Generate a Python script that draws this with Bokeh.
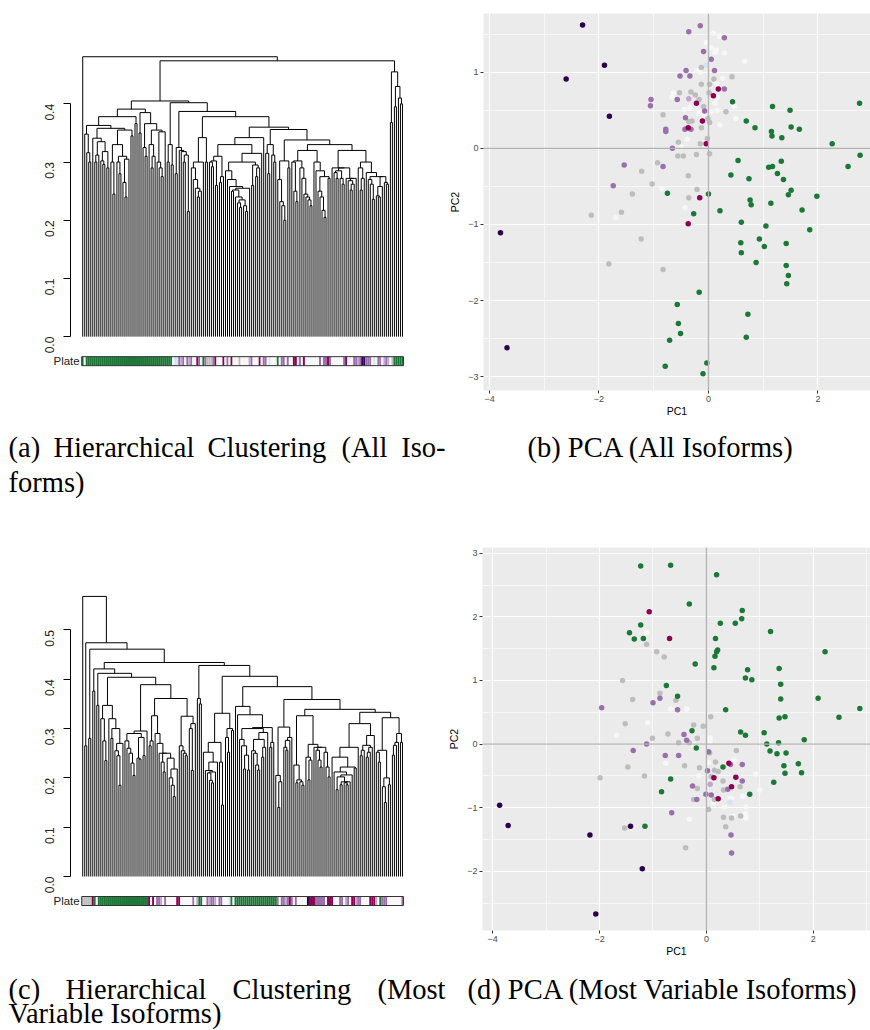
import numpy as np
from bokeh.plotting import figure
from bokeh.layouts import column, row
from bokeh.models import (Range1d, FixedTicker, SingleIntervalTicker, Span,
                          NumeralTickFormatter, CustomJSTickFormatter)
from bokeh.core.properties import value
from bokeh.embed import file_html
from bokeh.resources import INLINE

# ---------------------------------------------------------------------------
# Dendrograms: merge height between each pair of neighbouring leaves
# (left to right).  The tree is rebuilt by splitting at the highest merge.
# ---------------------------------------------------------------------------
gaps_all = [
    0.481,
    0.348, 0.316, 0.300, 0.363, 0.341, 0.300, 0.312, 0.335, 0.302, 0.296,
    0.318, 0.290, 0.358, 0.300, 0.245, 0.330, 0.300, 0.280, 0.310, 0.265,
    0.240, 0.305, 0.355, 0.345, 0.378, 0.366,
    0.391,
    0.350, 0.385, 0.325, 0.310, 0.366, 0.330, 0.290, 0.310, 0.355, 0.300,
    0.290, 0.275, 0.352,
    0.405,
    0.300, 0.330, 0.295,
    0.402,
    0.280, 0.325, 0.320, 0.318, 0.300, 0.312, 0.215,
    0.387,
    0.290, 0.270, 0.255, 0.240, 0.250, 0.300, 0.342, 0.300,
    0.378,
    0.300, 0.292, 0.302, 0.260, 0.310, 0.265, 0.275,
    0.330,
    0.285, 0.270, 0.258, 0.250, 0.252, 0.240, 0.230, 0.222, 0.235, 0.225,
    0.215, 0.255,
    0.300,
    0.260, 0.295, 0.275, 0.290, 0.315, 0.342,
    0.360,
    0.315, 0.280, 0.330, 0.312, 0.300,
    0.356,
    0.270, 0.232, 0.225, 0.200, 0.302, 0.290,
    0.338,
    0.300, 0.250, 0.232, 0.302, 0.290, 0.272, 0.245, 0.240, 0.235, 0.225,
    0.320, 0.300, 0.285, 0.250, 0.240, 0.217, 0.205, 0.275, 0.272,
    0.330,
    0.290, 0.282, 0.272, 0.285, 0.272, 0.262, 0.290, 0.272, 0.268, 0.252,
    0.262, 0.272, 0.320, 0.290, 0.252, 0.272, 0.300, 0.282, 0.270, 0.262,
    0.236, 0.275, 0.242, 0.240, 0.258, 0.275, 0.265, 0.262,
    0.474,
    0.368, 0.455, 0.395, 0.430, 0.410, 0.400,
]

gaps_var = [
    0.568, 0.265, 0.474, 0.280, 0.461, 0.376, 0.421, 0.347, 0.412,
    0.320, 0.275, 0.235, 0.347, 0.320, 0.280, 0.300, 0.255, 0.245, 0.185,
    0.270,
    0.404,
    0.275, 0.260, 0.250, 0.230, 0.205, 0.290, 0.240, 0.238, 0.282, 0.245,
    0.295,
    0.389,
    0.265, 0.275, 0.326, 0.290, 0.270, 0.250, 0.232, 0.212, 0.250, 0.240,
    0.200, 0.185, 0.162, 0.218, 0.361, 0.265, 0.255, 0.250, 0.245, 0.325,
    0.300, 0.215, 0.310,
    0.434,
    0.361, 0.350,
    0.428,
    0.252, 0.215, 0.210, 0.195, 0.190, 0.212, 0.232, 0.272, 0.232, 0.145,
    0.331, 0.282, 0.252, 0.300, 0.296,
    0.406,
    0.345, 0.328, 0.278, 0.265, 0.218, 0.246, 0.216, 0.300, 0.255, 0.250,
    0.226, 0.216, 0.278, 0.242, 0.262, 0.292, 0.302, 0.262, 0.272,
    0.385,
    0.205, 0.140, 0.192, 0.303, 0.262, 0.256, 0.276, 0.282,
    0.359,
    0.226, 0.190, 0.196, 0.192, 0.185, 0.326, 0.242, 0.196, 0.236, 0.268,
    0.262, 0.256, 0.236, 0.222, 0.262, 0.252, 0.222, 0.202,
    0.339,
    0.242, 0.212, 0.176, 0.202, 0.186, 0.192, 0.190, 0.186, 0.192, 0.206,
    0.222, 0.220, 0.262, 0.310, 0.245, 0.256, 0.266, 0.242, 0.252, 0.262,
    0.286, 0.333, 0.252, 0.232, 0.256, 0.182, 0.150, 0.200, 0.186, 0.322,
    0.246, 0.266, 0.272, 0.290, 0.272,
]

# plate of each leaf, in dendrogram order
plate_all = (
    "GWGGGGGGGGGGGGGGGGGGGGGGGGGGGGGGGGGGGGGGGGGGG"
    "WBBPLPWPLPWWMPWGPSSSPMWWWMWPWMWWWSWWWWLPWWWMWPPWBW"
    "WWGWPPWPWWMMWPWMWWWWWWWPWPPMPWWWWWWPMWWWPPLPDDPPPW"
    "BWPPWLPLWS"
    "GGGGG"
)
plate_var = (
    "SSSSSMGW"
    "GGGGGGGGGGGGGGGGGGGGGGGGG"
    "MWMWPPLWPWWWWWMMWWWWWWPWLGGWWPLPPLWPPWWWBGW"
    "GGGGGGGGGGGGGGGGGGGGG"
    "PWPPLPMPWPWWWWWDMMMPPPPPWMMMWWWPPWLPWMMLPPWWWWMMMLWGPPPWWWWWWWP"
)

PLATE_COLORS = {"G": "#1b7837", "W": "#f7f7f7", "B": "#d1e5f0", "L": "#c2a5cf",
                "P": "#9970ab", "M": "#8e0152", "D": "#2d004b", "S": "#bdbdbd"}

ticks_all = [0.0, 0.1, 0.2, 0.3, 0.4]
ticks_var = [0.0, 0.1, 0.2, 0.3, 0.4, 0.5]

# ---------------------------------------------------------------------------
# PCA scores (PC1, PC2) by plate
# ---------------------------------------------------------------------------
b_dark = [(-2.30, 1.62), (-2.60, 0.91), (-1.90, 1.09), (-1.81, 0.42), (-3.80, -1.11), (-3.68, -2.62)]
b_purple = [(-0.15, 1.61), (-0.36, 1.53), (0.29, 1.45), (-0.09, 1.27), (0.05, 1.17), (-0.41, 1.02),
            (-0.52, 0.95), (-0.34, 0.95), (0.11, 1.02), (0.29, 0.78), (-1.05, 0.64), (-1.06, 0.56),
            (-0.57, 0.64), (-0.42, 0.40), (-0.78, 0.25), (-0.78, 0.22), (-0.43, 0.25), (-0.32, 0.25),
            (-0.07, 0.49), (-0.66, 0.0), (-1.54, -0.22), (-0.83, -0.24), (-1.74, -0.49)]
b_lilac = [(-0.36, 0.65)]
b_magenta = [(-0.22, 0.59), (0.09, 0.69), (0.18, 0.78), (-0.11, 0.36), (-0.37, 0.27), (-0.04, 0.06),
             (-0.16, -0.65), (-0.37, -0.99)]
b_grey = [(-0.13, 1.06), (-0.13, 0.84), (0.02, 0.84), (0.43, 0.94), (0.10, 0.91), (-0.32, 0.74),
          (-0.53, 0.73), (-0.24, 0.70), (-0.17, 0.64), (-0.09, 0.55), (0.01, 0.73), (0.32, 0.48),
          (-0.83, 0.44), (-0.30, 0.36), (-0.36, 0.35), (-0.13, 0.27), (0.02, 0.34), (-0.01, 0.39),
          (-0.55, 0.08), (-0.15, 0.06), (-0.02, 0.13), (-0.56, -0.10), (-0.46, -0.10), (-0.22, -0.08),
          (0.02, -0.07), (-0.93, -0.19), (-1.22, -0.30), (-1.03, -0.47), (-0.37, -0.36), (-1.39, -0.60),
          (-0.21, -0.54), (-0.36, -0.65), (-1.59, -0.84), (-2.14, -0.88), (-1.23, -1.19), (-1.82, -1.52),
          (-0.83, -1.59)]
b_white = [(0.09, 1.51), (0.20, 1.47), (-0.04, 1.39), (0.05, 1.32), (0.14, 1.29), (0.12, 1.26),
           (0.29, 1.25), (0.66, 1.14), (-0.21, 1.02), (-0.15, 1.00), (0.26, 0.92), (0.15, 0.85),
           (-0.64, 0.73), (-0.67, 0.67), (-0.34, 0.54), (0.16, 0.67), (0.12, 0.59), (0.16, 0.50),
           (0.47, 0.55), (0.50, 0.39), (0.21, 0.31), (-0.07, 0.42), (0.04, 0.48), (-0.44, 0.51),
           (-0.39, 0.12), (-0.50, 0.02), (-0.85, -0.53), (-0.43, -0.78), (-1.69, -0.91), (-0.17, 0.46)]
b_blue = [(-0.04, 1.09)]
b_green = [(0.44, 0.61), (1.17, 0.55), (1.49, 0.50), (0.69, 0.36), (0.85, 0.27), (1.15, 0.22),
           (1.16, 0.16), (1.34, 0.14), (1.51, 0.28), (1.66, 0.25), (2.76, 0.59), (2.26, 0.06),
           (2.77, -0.09), (2.55, -0.24), (0.54, -0.16), (1.10, -0.25), (1.17, -0.24), (1.33, -0.17),
           (1.26, -0.33), (0.41, -0.35), (0.74, -0.40), (1.37, -0.41), (1.51, -0.55), (1.46, -0.61),
           (1.98, -0.63), (-0.75, -0.59), (0.0, -0.60), (0.76, -0.68), (0.78, -0.74), (1.14, -0.72),
           (1.71, -0.81), (0.21, -0.82), (-0.27, -0.86), (0.60, -0.97), (1.05, -1.02), (1.85, -1.07),
           (0.59, -1.24), (0.93, -1.19), (1.42, -1.25), (0.60, -1.37), (1.02, -1.29), (0.87, -1.50),
           (1.42, -1.54), (1.46, -1.67), (1.43, -1.78), (-0.17, -1.89), (-0.57, -2.05), (-0.55, -2.30),
           (-0.51, -2.43), (-0.71, -2.52), (0.72, -2.18), (0.69, -2.48), (-0.79, -2.86), (-0.03, -2.82),
           (-0.10, -2.96)]

d_dark = [(-3.87, -0.96), (-3.71, -1.28), (-2.18, -1.43), (-1.42, -1.29), (-1.20, -1.96), (-2.07, -2.67)]
d_magenta = [(-1.07, 2.08), (-0.69, 1.66), (0.42, -0.30), (0.55, -0.52), (0.14, -0.53), (0.47, -0.67),
             (0.22, -0.86)]
d_green = [(-1.23, 2.80), (-0.67, 2.81), (0.19, 2.66), (-0.32, 2.20), (0.67, 2.10), (0.66, 1.97),
           (0.26, 1.90), (0.54, 1.90), (-1.23, 1.87), (-1.44, 1.75), (-1.35, 1.65), (-1.18, 1.66),
           (0.17, 1.66), (1.20, 1.77), (0.21, 1.48), (0.19, 1.45), (0.16, 1.38), (0.14, 1.20),
           (-0.21, 1.26), (0.77, 1.17), (0.73, 1.04), (0.85, 1.01), (2.22, 1.45), (1.36, 1.19),
           (1.39, 0.94), (1.39, 0.71), (2.09, 0.72), (-0.75, 0.92), (-0.54, 0.75), (0.36, 0.54),
           (1.36, 0.41), (1.47, 0.43), (2.48, 0.42), (2.87, 0.56), (-0.27, 0.21), (0.64, 0.19),
           (0.73, 0.14), (1.08, 0.18), (1.13, 0.0), (1.35, 0.02), (1.83, 0.07), (1.19, -0.11),
           (1.32, -0.15), (1.49, -0.14), (-0.19, -0.06), (0.31, -0.36), (1.72, -0.31), (1.45, -0.34),
           (1.47, -0.46), (1.78, -0.45), (1.26, -0.60), (-0.67, -0.55), (-0.84, -0.75), (0.81, -0.79),
           (-1.15, -1.29)]
d_purple = [(-1.96, 0.57), (-1.00, 0.65), (-0.87, 0.72), (-0.54, 0.54), (-0.42, 0.15), (-0.37, 0.06),
            (-1.12, 0.0), (-1.37, -0.10), (-0.77, -0.18), (-0.52, -0.18), (0.04, -0.12), (0.45, -0.32),
            (0.67, -0.32), (0.02, -0.42), (0.67, -0.58), (0.40, -0.71), (-0.26, -0.66), (-0.18, -0.87),
            (-0.01, -0.79), (0.09, -0.80), (-0.65, -1.08), (0.46, -1.43), (0.47, -1.71)]
d_lilac = [(0.07, -0.63)]
d_grey = [(-1.12, 1.57), (-0.93, 1.45), (-0.79, 1.37), (-1.57, 1.00), (-0.87, 0.80), (-1.38, 0.70),
          (-0.57, 0.69), (-1.52, 0.32), (0.08, 0.43), (-0.06, 0.28), (-0.24, 0.30), (-0.72, 0.16),
          (-1.01, 0.09), (-0.52, 0.02), (-0.32, 0.02), (-0.17, 0.09), (-1.47, -0.36), (-1.16, -0.50),
          (-1.99, -0.53), (-0.41, -0.34), (-0.13, -0.37), (0.06, -0.14), (0.17, -0.28), (0.56, -0.10),
          (0.15, -0.41), (0.22, -0.43), (0.09, -0.51), (0.31, -0.58), (0.63, -0.67), (0.32, -0.72),
          (-0.17, -0.70), (-0.24, -0.87), (0.15, -0.87), (0.04, -1.03), (0.32, -1.15), (0.47, -1.16),
          (0.64, -1.13), (0.36, -1.30), (-1.53, -1.32), (-0.39, -1.63)]
d_white = [(-1.12, 1.75), (-0.67, 0.55), (-0.37, 0.55), (-1.10, 0.34), (-1.68, 0.14), (-0.23, -0.02),
           (0.07, 0.10), (0.07, 0.05), (-0.76, -0.30), (-0.14, -0.50), (0.04, -0.29), (0.52, -0.25),
           (0.92, -0.47), (1.00, -0.72), (0.68, -0.82), (0.47, -0.85), (0.34, -0.99), (0.13, -0.93),
           (0.50, -1.13), (0.74, -0.99), (0.73, -1.09), (0.74, -1.16), (-0.32, -1.18), (0.44, -0.85)]
d_blue = [(0.44, -0.91)]

SANS = "Liberation Sans"
SERIF = "Liberation Serif"


def tree_segments(gaps):
    """Segments of a dendrogram whose neighbouring leaves merge at `gaps`."""
    x0, y0, x1, y1 = [], [], [], []

    def walk(lo, hi):
        if lo == hi:
            return float(lo), 0.0
        k = lo + int(np.argmax(gaps[lo:hi]))
        h = gaps[k]
        xl, hl = walk(lo, k)
        xr, hr = walk(k + 1, hi)
        x0.extend([xl, xr, xl]); y0.extend([hl, hr, h])
        x1.extend([xl, xr, xr]); y1.extend([h, h, h])
        return 0.5 * (xl + xr), h

    walk(0, len(gaps))
    return x0, y0, x1, y1


def dendrogram_panel(gaps, plate, ticks, y_lo, y_hi, top_pad, frame_h, bottom_pad):
    n = len(gaps) + 1
    # 2 px per leaf; the frame starts 21 leaf-units left of the first leaf
    # so that the plate label fits inside it, the axis sits 6 units left.
    p = figure(frame_width=370, frame_height=frame_h,
               min_border_left=40, min_border_right=25,
               min_border_top=top_pad, min_border_bottom=bottom_pad,
               x_range=Range1d(-21.0, n + 3.0), y_range=Range1d(y_lo, y_hi),
               x_axis_type=None, toolbar_location=None, output_backend="svg")
    p.grid.visible = False
    p.outline_line_color = None

    x0, y0, x1, y1 = tree_segments(gaps)
    p.segment(x0=x0, y0=y0, x1=x1, y1=y1, line_color="black", line_width=1)

    # coloured plate bar below the leaves
    ppu = frame_h / (y_hi - y_lo)
    s_top, s_bot = -20 / ppu, -29 / ppu
    m = len(plate)
    step = n / m
    left = [-0.5 + i * step for i in range(m)]
    right = [-0.5 + (i + 1) * step for i in range(m)]
    p.quad(left=left, right=right, top=s_top, bottom=s_bot,
           fill_color=[PLATE_COLORS[c] for c in plate], line_color=None)
    p.quad(left=[-0.5], right=[n - 0.5], top=[s_top], bottom=[s_bot],
           fill_color=None, line_color="#333333", line_width=1)
    p.text(x=[-1.5], y=[0.5 * (s_top + s_bot)], text=["Plate"],
           text_align="right", text_baseline="middle",
           text_font=value(SANS), text_font_size="11.5px", text_color="#222222")

    ax = p.yaxis[0]
    ax.fixed_location = -6.0
    ax.ticker = FixedTicker(ticks=ticks)
    ax.bounds = (ticks[0], ticks[-1])
    ax.formatter = NumeralTickFormatter(format="0.0")
    ax.major_label_orientation = np.pi / 2
    ax.major_label_text_font = SANS
    ax.major_label_text_font_size = "12px"
    ax.major_label_text_color = "#222222"
    ax.major_label_standoff = 14
    ax.major_tick_in = 0
    ax.major_tick_out = 7
    ax.minor_tick_line_color = None
    ax.axis_line_color = "black"
    ax.major_tick_line_color = "black"
    return p


minus = CustomJSTickFormatter(code="return (tick < 0 ? '\u2212' : '') + Math.abs(tick).toString();")


def pca_panel(groups, x_lo, x_hi, y_lo, y_hi, left_pad, frame_w, top_pad, frame_h, bottom_pad):
    p = figure(frame_width=frame_w, frame_height=frame_h,
               min_border_left=left_pad, min_border_right=0,
               min_border_top=top_pad, min_border_bottom=bottom_pad,
               x_range=Range1d(x_lo, x_hi), y_range=Range1d(y_lo, y_hi),
               background_fill_color="#ebebeb", toolbar_location=None,
               output_backend="svg", x_axis_label="PC1", y_axis_label="PC2")
    p.outline_line_color = None
    xt = SingleIntervalTicker(interval=2, num_minor_ticks=2)
    yt = SingleIntervalTicker(interval=1, num_minor_ticks=2)
    p.xaxis.ticker = xt
    p.xgrid.ticker = xt
    p.yaxis.ticker = yt
    p.ygrid.ticker = yt
    for g in (p.xgrid[0], p.ygrid[0]):
        g.grid_line_color = "white"
        g.grid_line_width = 1.2
        g.minor_grid_line_color = "white"
        g.minor_grid_line_width = 0.6
    for ax in (p.xaxis[0], p.yaxis[0]):
        ax.formatter = minus
        ax.axis_line_color = None
        ax.major_tick_line_color = "#333333"
        ax.major_tick_in = 0
        ax.major_tick_out = 3
        ax.minor_tick_line_color = None
        ax.major_label_text_font = SANS
        ax.major_label_text_font_size = "9px"
        ax.major_label_text_color = "#4d4d4d"
        ax.major_label_standoff = 1
        ax.axis_label_text_font = SANS
        ax.axis_label_text_font_size = "10.5px"
        ax.axis_label_text_font_style = "normal"
        ax.axis_label_text_color = "black"
        ax.axis_label_standoff = 0
    p.yaxis[0].axis_label_standoff = 4

    p.add_layout(Span(location=0, dimension="height", line_color="#b3b3b3", line_width=1.3))
    p.add_layout(Span(location=0, dimension="width", line_color="#b3b3b3", line_width=1.3))

    for pts, colour in groups:
        p.scatter(x=[v[0] for v in pts], y=[v[1] for v in pts], size=5.5,
                  fill_color=colour, line_color=None)
    return p


def caption_panel(h):
    p = figure(width=870, height=h, x_range=Range1d(0, 870), y_range=Range1d(h, 0),
               x_axis_type=None, y_axis_type=None, toolbar_location=None,
               output_backend="svg", min_border=0)
    p.outline_line_color = None
    return p


def caption_text(p, xs, ys, words, align="left"):
    p.text(x=xs, y=ys, text=words, text_align=align, text_baseline="middle",
           text_font=value(SERIF), text_font_size="28.5px", text_color="black")


# top row: frames span page y 13..390
fig_a = dendrogram_panel(gaps_all, plate_all, ticks_all, -0.0925, 0.5553, 13, 377, 30)
fig_b = pca_panel([(b_white, PLATE_COLORS["W"]), (b_blue, PLATE_COLORS["B"]),
                   (b_grey, PLATE_COLORS["S"]), (b_lilac, PLATE_COLORS["L"]),
                   (b_purple, PLATE_COLORS["P"]), (b_magenta, PLATE_COLORS["M"]),
                   (b_green, PLATE_COLORS["G"]), (b_dark, PLATE_COLORS["D"])],
                  -4.11, 2.96, -3.18, 1.77, 48, 387, 13, 377, 30)

cap_top = caption_panel(110)
caption_text(cap_top, [8, 53, 207, 341], [27] * 4, ["(a)", "Hierarchical", "Clustering", "(All"])
caption_text(cap_top, [445], [27], ["Iso-"], align="right")
caption_text(cap_top, [8], [62], ["forms)"])
caption_text(cap_top, [527], [27], ["(b) PCA (All Isoforms)"])

# bottom row: frames span page y 547..930
fig_c = dendrogram_panel(gaps_var, plate_var, ticks_var, -0.1095, 0.6672, 17, 383, 30)
fig_d = pca_panel([(d_white, PLATE_COLORS["W"]), (d_blue, PLATE_COLORS["B"]),
                   (d_grey, PLATE_COLORS["S"]), (d_lilac, PLATE_COLORS["L"]),
                   (d_purple, PLATE_COLORS["P"]), (d_magenta, PLATE_COLORS["M"]),
                   (d_green, PLATE_COLORS["G"]), (d_dark, PLATE_COLORS["D"])],
                  -4.19, 3.07, -2.93, 3.09, 47, 388, 17, 383, 30)

cap_bot = caption_panel(70)
caption_text(cap_bot, [8, 65, 232], [29] * 3, ["(c)", "Hierarchical", "Clustering"])
caption_text(cap_bot, [445], [29], ["(Most"], align="right")
caption_text(cap_bot, [8], [53], ["Variable Isoforms)"])
caption_text(cap_bot, [467], [29], ["(d) PCA (Most Variable Isoforms)"])

page = column(row(fig_a, fig_b), cap_top, row(fig_c, fig_d), cap_bot)

open("out.html", "w").write(file_html(page, INLINE))
